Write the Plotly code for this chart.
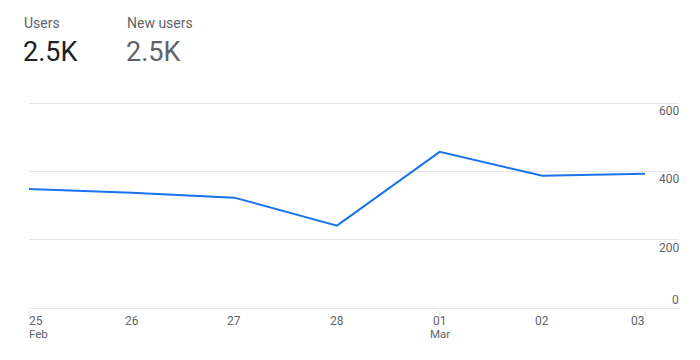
import plotly.graph_objects as go
import pandas as pd

# ---- data ----
dates = ["2023-02-25", "2023-02-26", "2023-02-27", "2023-02-28",
         "2023-03-01", "2023-03-02", "2023-03-03"]
users = [348, 337, 323, 241, 457, 387, 393]
y_ticks = [0, 200, 400, 600]
metric_labels = ["Users", "New users"]
metric_values = ["2.5K", "2.5K"]

FONT = "Roboto, Arial, sans-serif"
GRID = "#e6e6e6"
TICKTXT = "#5f6368"

# page has an 8px body margin; work in page pixels and convert
OFF = 8
W, H = 700 - OFF, 360 - OFF
Y600, Y0 = 103, 308                          # gridline rows in page pixels
EDGE = 2                                     # extra px so edge gridlines show
PL, PR, PT, PB = 29, 679, Y600 - EDGE, Y0 + EDGE
L, R, T, B = PL - OFF, W - (PR - OFF), PT - OFF, H - (PB - OFF)
pw, ph = W - L - R, H - T - B

ts = pd.to_datetime(dates)
day = pd.Timedelta(days=1)
px_per_day = (645 - PL) / (len(dates) - 1)
x_end = ts[-1] + day * ((PR - 645) / px_per_day)
y_pad = 600 * EDGE / (Y0 - Y600)

fig = go.Figure()
fig.add_trace(go.Scatter(
    x=ts, y=users, mode="lines",
    line=dict(color="#1a73e8", width=2),
    hoverinfo="skip", showlegend=False,
))

annotations = []
prev_month = None
for i, t in enumerate(ts):
    if i == 0:
        xa, xs = "left", -2
    elif i == len(ts) - 1:
        xa, xs = "right", 2
    else:
        xa, xs = "center", 0
    annotations.append(dict(
        x=t, xref="x", y=0, yref="paper", yanchor="top", xanchor=xa,
        xshift=xs, yshift=EDGE - 4, text=t.strftime("%d"), showarrow=False,
        font=dict(family=FONT, size=12, color=TICKTXT)))
    if t.month != prev_month:
        annotations.append(dict(
            x=t, xref="x", y=0, yref="paper", yanchor="top", xanchor=xa,
            xshift=xs, yshift=EDGE - 17, text=t.strftime("%b"), showarrow=False,
            font=dict(family=FONT, size=11.5, color=TICKTXT)))
    prev_month = t.month

for v in y_ticks:
    annotations.append(dict(
        x=1, xref="paper", y=v, yref="y", xanchor="right", yanchor="middle",
        xshift=1, yshift=8 if v == 0 else -8, borderpad=0,
        text=str(v), showarrow=False,
        font=dict(family=FONT, size=12, color=TICKTXT)))

def px_x(x):
    return (x - OFF - L) / pw

def px_y(y):
    return (H - B - (y - OFF)) / ph

header_x = [24, 127]
value_colors = ["#202124", "#5f6368"]
for hx, lab, val, vc in zip(header_x, metric_labels, metric_values, value_colors):
    annotations.append(dict(
        x=px_x(hx - 1), xref="paper", y=px_y(14), yref="paper",
        xanchor="left", yanchor="top", borderpad=0, text=lab, showarrow=False,
        font=dict(family=FONT, size=14, color="#5f6368")))
    annotations.append(dict(
        x=px_x(hx - 2), xref="paper", y=px_y(35), yref="paper",
        xanchor="left", yanchor="top", borderpad=0, text=val, showarrow=False,
        font=dict(family=FONT, size=27, color=vc)))

fig.update_layout(
    width=W, height=H,
    margin=dict(l=L, r=R, t=T, b=B, pad=0),
    paper_bgcolor="white", plot_bgcolor="white",
    font=dict(family=FONT, size=12, color=TICKTXT),
    xaxis=dict(
        type="date", range=[ts[0], x_end],
        showgrid=False, zeroline=False, showline=False,
        showticklabels=False,
        tickmode="array", tickvals=[ts[0], ts[4], ts[-1]],
        ticks="outside", ticklen=5 + EDGE, tickcolor=GRID, tickwidth=1,
        fixedrange=True,
    ),
    yaxis=dict(
        range=[-y_pad, 600 + y_pad], side="right",
        tickmode="array", tickvals=y_ticks,
        showgrid=True, gridcolor=GRID, gridwidth=1,
        zeroline=False, showline=False, showticklabels=False,
        ticks="", fixedrange=True,
    ),
    shapes=[dict(
        type="rect", xref="x", yref="paper",
        x0=ts[-1] + day * (1 / px_per_day), x1=ts[-1] + day * (4 / px_per_day),
        y0=-0.01, y1=1.01, fillcolor="white", line=dict(width=0),
        layer="between",
    )],
    annotations=annotations,
)

fig.write_html("out.html")
